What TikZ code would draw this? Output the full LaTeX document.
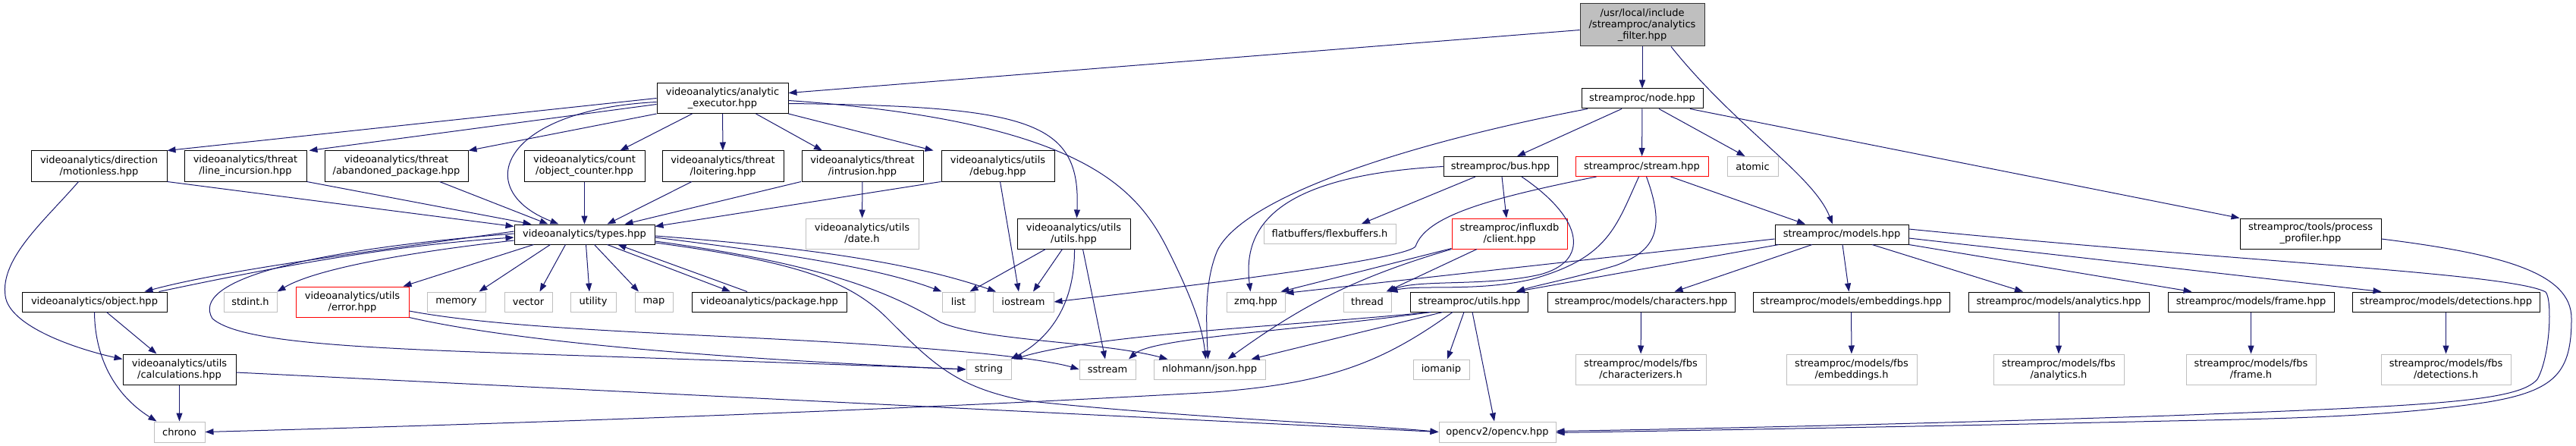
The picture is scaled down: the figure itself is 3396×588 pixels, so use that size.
\documentclass[tikz,border=0pt]{standalone}
\usepackage{fontspec}
\setmainfont{DejaVu Sans}
\usetikzlibrary{arrows.meta, backgrounds}

\definecolor{edgeBlue}{RGB}{25,25,112}
\definecolor{extGray}{RGB}{191,191,191}
\definecolor{rootGray}{RGB}{191,191,191}
\definecolor{cutRed}{RGB}{255,0,0}

\begin{document}
\begin{tikzpicture}[
        x=1pt, y=-1pt,
        % kiểu dáng các khối
        box/.style={
            rectangle,
            inner sep=0pt,
            align=center,
            fill=white,
            line width=1pt,
            font=\fontsize{13pt}{15pt}\selectfont
        },
        docbox/.style={box, draw=black},
        extbox/.style={box, draw=extGray},
        cutbox/.style={box, draw=cutRed},
        rootbox/.style={box, draw=black!80, fill=rootGray},
        oneline/.style={minimum height=26pt},
        twoline/.style={minimum height=40pt},
        dep/.style={
            draw=edgeBlue,
            line width=1pt,
            -{Triangle[length=11pt,width=8pt]}
        }
    ]
    \useasboundingbox (0,0) rectangle (3396,588);

    % --- 1. CÁC NODE ---

    % hàng 0
    \node[rootbox, minimum width=164pt, minimum height=56pt] (filter) at (2165,33) {/usr/local/include\\/streamproc/analytics\\\_filter.hpp};

    % hàng 1
    \node[docbox, twoline, minimum width=173pt] (executor) at (952.5,129.5) {videoanalytics/analytic\\\_executor.hpp};
    \node[docbox, oneline, minimum width=160pt] (nodeHpp) at (2165,130) {streamproc/node.hpp};

    % hàng 2
    \node[docbox, twoline, minimum width=179pt] (motionless) at (130.5,219) {videoanalytics/direction\\/motionless.hpp};
    \node[docbox, twoline, minimum width=161pt] (lineIncursion) at (323.5,219) {videoanalytics/threat\\/line\_incursion.hpp};
    \node[docbox, twoline, minimum width=189pt] (abandoned) at (522.5,219) {videoanalytics/threat\\/abandoned\_package.hpp};
    \node[docbox, twoline, minimum width=159pt] (objCounter) at (770.5,219) {videoanalytics/count\\/object\_counter.hpp};
    \node[docbox, twoline, minimum width=160pt] (loitering) at (953,219) {videoanalytics/threat\\/loitering.hpp};
    \node[docbox, twoline, minimum width=160pt] (intrusion) at (1137,219) {videoanalytics/threat\\/intrusion.hpp};
    \node[docbox, twoline, minimum width=149pt] (debugHpp) at (1315.5,219) {videoanalytics/utils\\/debug.hpp};
    \node[docbox, oneline, minimum width=150pt] (bus) at (1978,219.5) {streamproc/bus.hpp};
    \node[cutbox, oneline, minimum width=175pt] (stream) at (2164.5,219.5) {streamproc/stream.hpp};
    \node[extbox, oneline, minimum width=67pt] (atomic) at (2310.5,219.5) {atomic};

    % hàng 3
    \node[docbox, oneline, minimum width=185pt] (types) at (770.5,309) {videoanalytics/types.hpp};
    \node[extbox, twoline, minimum width=149pt] (dateH) at (1136.5,308) {videoanalytics/utils\\/date.h};
    \node[docbox, twoline, minimum width=149pt] (vaUtils) at (1415.5,308) {videoanalytics/utils\\/utils.hpp};
    \node[extbox, oneline, minimum width=174pt] (flexbuf) at (1753,308.5) {flatbuffers/flexbuffers.h};
    \node[cutbox, twoline, minimum width=152pt] (influx) at (1990,308) {streamproc/influxdb\\/client.hpp};
    \node[docbox, oneline, minimum width=176pt] (models) at (2428,309) {streamproc/models.hpp};
    \node[docbox, twoline, minimum width=186pt] (profiler) at (3046,308) {streamproc/tools/process\\\_profiler.hpp};

    % hàng 4
    \node[docbox, oneline, minimum width=191pt] (objectHpp) at (124.5,398) {videoanalytics/object.hpp};
    \node[extbox, oneline, minimum width=70pt] (stdintH) at (330,398) {stdint.h};
    \node[cutbox, twoline, minimum width=149pt] (errorHpp) at (464.5,398) {videoanalytics/utils\\/error.hpp};
    \node[extbox, oneline, minimum width=77pt] (memory) at (601.5,398) {memory};
    \node[extbox, oneline, minimum width=63pt] (vector) at (696.5,398) {vector};
    \node[extbox, oneline, minimum width=60pt] (utility) at (782,398) {utility};
    \node[extbox, oneline, minimum width=50pt] (mapH) at (862,398) {map};
    \node[docbox, oneline, minimum width=204pt] (package) at (1014,398) {videoanalytics/package.hpp};
    \node[extbox, oneline, minimum width=43pt] (list) at (1263.5,398) {list};
    \node[extbox, oneline, minimum width=80pt] (iostream) at (1349,398) {iostream};
    \node[extbox, oneline, minimum width=77pt] (zmq) at (1655.5,398) {zmq.hpp};
    \node[extbox, oneline, minimum width=63pt] (thread) at (1802.5,398) {thread};
    \node[docbox, oneline, minimum width=155pt] (spUtils) at (1937,398) {streamproc/utils.hpp};
    \node[docbox, oneline, minimum width=247pt] (characters) at (2163.5,398) {streamproc/models/characters.hpp};
    \node[docbox, oneline, minimum width=259pt] (embeddings) at (2440.5,398) {streamproc/models/embeddings.hpp};
    \node[docbox, oneline, minimum width=238pt] (analytics) at (2714,398) {streamproc/models/analytics.hpp};
    \node[docbox, oneline, minimum width=219pt] (frame) at (2967.5,398) {streamproc/models/frame.hpp};
    \node[docbox, oneline, minimum width=247pt] (detections) at (3224.5,398) {streamproc/models/detections.hpp};

    % hàng 5
    \node[docbox, twoline, minimum width=149pt] (calculations) at (236.5,487) {videoanalytics/utils\\/calculations.hpp};
    \node[extbox, oneline, minimum width=59pt] (string) at (1303.5,487) {string};
    \node[extbox, oneline, minimum width=74pt] (sstream) at (1460,487) {sstream};
    \node[extbox, oneline, minimum width=147pt] (json) at (1594.5,487) {nlohmann/json.hpp};
    \node[extbox, oneline, minimum width=74pt] (iomanip) at (1900,487) {iomanip};
    \node[extbox, twoline, minimum width=172pt] (characterizers) at (2163,487) {streamproc/models/fbs\\/characterizers.h};
    \node[extbox, twoline, minimum width=172pt] (fbsEmbed) at (2441,487) {streamproc/models/fbs\\/embeddings.h};
    \node[extbox, twoline, minimum width=172pt] (fbsAnalytics) at (2714,487) {streamproc/models/fbs\\/analytics.h};
    \node[extbox, twoline, minimum width=171pt] (fbsFrame) at (2967.5,487) {streamproc/models/fbs\\/frame.h};
    \node[extbox, twoline, minimum width=171pt] (fbsDetect) at (3224.5,487) {streamproc/models/fbs\\/detections.h};

    % hàng 6
    \node[extbox, minimum width=67pt, minimum height=27pt] (chrono) at (236.5,569.5) {chrono};
    \node[extbox, minimum width=154pt, minimum height=27pt] (opencv) at (1974,569.5) {opencv2/opencv.hpp};

    % --- 2. CÁC ĐƯỜNG NỐI ---

    % analytics_filter.hpp
    \draw[dep] (filter) -- (executor);
    \draw[dep] (filter) -- (nodeHpp);
    \draw[dep] ([xshift=38pt]filter.south) .. controls (2290,170) and (2390,230) .. ([xshift=-12pt]models.north);

    % node.hpp
    \draw[dep] (nodeHpp) -- (stream);
    \draw[dep] ([xshift=22pt]nodeHpp.south) -- ([xshift=-10pt]atomic.north);
    \draw[dep] ([xshift=-27pt]nodeHpp.south) -- ([xshift=22pt]bus.north);
    \draw[dep] ([xshift=63pt]nodeHpp.south) -- (profiler.north west);
    \draw[dep] ([xshift=-72pt]nodeHpp.south) .. controls (1850,190) and (1640,260) .. (1605,330) .. controls (1588,370) and (1590,420) .. ([xshift=-2pt]json.north);

    % bus.hpp
    \draw[dep] (bus.west) .. controls (1680,232) and (1638,300) .. ([xshift=-7pt]zmq.north);
    \draw[dep] ([xshift=-33pt]bus.south) -- ([xshift=42pt]flexbuf.north);
    \draw[dep] ([xshift=2pt]bus.south) -- ([xshift=-4pt]influx.north);
    \draw[dep] ([xshift=28pt]bus.south) .. controls (2090,290) and (2095,345) .. (2030,362) .. controls (1960,378) and (1870,368) .. ([xshift=27pt]thread.north);

    % stream.hpp
    \draw[dep] ([xshift=38pt]stream.south) -- ([xshift=-48pt]models.north);
    \draw[dep] ([xshift=-4pt]stream.south) .. controls (2130,300) and (2120,340) .. (2020,368) .. controls (1950,385) and (1870,375) .. ([xshift=29pt]thread.north);
    \draw[dep] ([xshift=6pt]stream.south) .. controls (2195,300) and (2185,330) .. (2130,350) .. controls (2070,368) and (2030,375) .. ([xshift=62pt]spUtils.north);
    \draw[dep] ([xshift=-60pt]stream.south) .. controls (1960,262) and (1880,285) .. (1866,325) .. controls (1855,338) and (1700,362) .. (iostream.east);

    % influxdb/client.hpp
    \draw[dep] ([xshift=-43pt]influx.south) -- ([xshift=25pt]thread.north);
    \draw[dep] ([yshift=1pt]influx.south west) -- ([xshift=33pt]zmq.north);
    \draw[dep] (influx.south west) .. controls (1790,365) and (1720,400) .. ([xshift=24pt]json.north);

    % models.hpp
    \draw[dep] ([yshift=-6pt]models.west) -- ([yshift=-2pt]zmq.north east);
    \draw[dep] ([xshift=-83pt]models.south) -- ([xshift=62pt]spUtils.north);
    \draw[dep] ([xshift=-39pt]models.south) -- ([xshift=44pt]characters.north);
    \draw[dep] ([xshift=1pt]models.south) -- ([xshift=-3pt]embeddings.north);
    \draw[dep] ([xshift=40pt]models.south) -- ([xshift=-47pt]analytics.north);
    \draw[dep] (models.south east) -- ([xshift=-78pt]frame.north);
    \draw[dep] ([yshift=-5pt]models.east) -- ([xshift=-85pt]detections.north);
    \draw[dep] ([yshift=7pt]models.east) .. controls (2950,345) and (3310,360) .. (3356,385) .. controls (3365,395) and (3362,470) .. (3345,500) .. controls (3320,530) and (3200,535) .. (2860,548) .. controls (2500,560) and (2200,566) .. ([yshift=1pt]opencv.east);
    \draw[dep] ([yshift=-7pt]profiler.east) .. controls (3300,335) and (3390,360) .. (3390,420) .. controls (3390,490) and (3370,515) .. (3280,530) .. controls (3150,550) and (3000,552) .. (2860,555) .. controls (2500,563) and (2200,568) .. ([yshift=-1pt]opencv.east);

    % streamproc/models/*
    \draw[dep] (characters) -- (characterizers);
    \draw[dep] (embeddings) -- (fbsEmbed);
    \draw[dep] (analytics) -- (fbsAnalytics);
    \draw[dep] (frame) -- (fbsFrame);
    \draw[dep] (detections) -- (fbsDetect);

    % streamproc/utils.hpp
    \draw[dep] ([xshift=-51pt]spUtils.south) .. controls (1700,430) and (1450,440) .. ([xshift=3pt]string.north east);
    \draw[dep] ([xshift=-51pt]spUtils.south) .. controls (1720,435) and (1520,445) .. ([xshift=28pt]sstream.north);
    \draw[dep] ([xshift=-35pt]spUtils.south) -- ([xshift=55pt]json.north);
    \draw[dep] ([xshift=-7pt]spUtils.south) -- ([xshift=8pt]iomanip.north);
    \draw[dep] ([xshift=4pt]spUtils.south) -- ([xshift=-4pt]opencv.north);
    \draw[dep] ([xshift=-22pt]spUtils.south) .. controls (1820,480) and (1750,505) .. (1600,517) .. controls (1200,540) and (700,558) .. (chrono.east);

    % videoanalytics/utils/utils.hpp
    \draw[dep] ([xshift=-37pt]vaUtils.south) -- ([xshift=15pt]list.north);
    \draw[dep] ([xshift=-15pt]vaUtils.south) -- ([xshift=13pt]iostream.north);
    \draw[dep] ([xshift=1pt]vaUtils.south) .. controls (1417,400) and (1385,445) .. ([xshift=-1pt]string.north east);
    \draw[dep] ([xshift=12pt]vaUtils.south) -- ([xshift=-3pt]sstream.north);

    % hàng 2 -> types.hpp
    \draw[dep] (debugHpp.south west) -- ([yshift=-3pt]types.north east);
    \draw[dep] ([xshift=3pt]debugHpp.south) -- ([xshift=-6pt]iostream.north);
    \draw[dep] (intrusion) -- (dateH);
    \draw[dep] ([xshift=-81pt]intrusion.south) -- ([xshift=53pt]types.north);
    \draw[dep] ([xshift=-41pt]loitering.south) -- ([xshift=30pt]types.north);
    \draw[dep] (objCounter) -- (types);
    \draw[dep] ([xshift=57pt]abandoned.south) -- ([xshift=-48pt]types.north);
    \draw[dep] (lineIncursion.south east) -- ([xshift=-70pt]types.north);
    \draw[dep] (motionless.south east) -- ([yshift=-3pt]types.north west);
    \draw[dep] ([xshift=-27pt]motionless.south) .. controls (60,290) and (0,340) .. (7,390) .. controls (12,430) and (100,460) .. ([yshift=-7pt]calculations.north west);

    % analytic_executor.hpp
    \draw[dep] (executor.west) -- (motionless.north east);
    \draw[dep] ([yshift=-8pt]executor.west) -- ([xshift=3pt]lineIncursion.north east);
    \draw[dep] (executor.south west) -- (abandoned.north east);
    \draw[dep] ([xshift=-40pt]executor.south) -- ([xshift=47pt]objCounter.north);
    \draw[dep] (executor) -- (loitering);
    \draw[dep] ([xshift=44pt]executor.south) -- ([xshift=-53pt]intrusion.north);
    \draw[dep] (executor.south east) -- ([xshift=-85pt]debugHpp.north);
    \draw[dep] ([yshift=-5pt]executor.west) .. controls (660,145) and (620,250) .. ([xshift=-34pt]types.north);
    \draw[dep] ([yshift=-7pt]executor.east) .. controls (1360,140) and (1425,160) .. ([xshift=4pt]vaUtils.north);
    \draw[dep] ([yshift=-3pt]executor.east) .. controls (1430,160) and (1500,250) .. (1540,330) .. controls (1570,390) and (1585,430) .. ([xshift=-5pt]json.north);

    % types.hpp
    \draw[dep] ([yshift=4pt]types.west) .. controls (500,330) and (300,355) .. ([xshift=66pt]objectHpp.north);
    \draw[dep] ([xshift=85pt]objectHpp.north) .. controls (350,355) and (500,325) .. ([yshift=-4pt]types.west);
    \draw[dep] ([yshift=-8pt]types.west) .. controls (560,330) and (420,352) .. (stdintH.north east);
    \draw[dep] ([yshift=1pt]types.west) .. controls (400,330) and (250,370) .. (280,420) .. controls (320,455) and (500,460) .. (800,470) .. controls (1000,477) and (1150,482) .. (string.west);
    \draw[dep] ([xshift=-67pt]types.south) -- ([xshift=67pt]errorHpp.north);
    \draw[dep] ([xshift=-45pt]types.south) -- ([xshift=30pt]memory.north);
    \draw[dep] ([xshift=-25pt]types.south) -- ([xshift=15pt]vector.north);
    \draw[dep] ([xshift=2pt]types.south) -- ([xshift=-5pt]utility.north);
    \draw[dep] ([xshift=13pt]types.south) -- ([xshift=-20pt]mapH.north);
    \draw[dep] ([xshift=30pt]types.south) -- ([xshift=-51pt]package.north);
    \draw[dep] ([xshift=-29pt]package.north) -- ([xshift=44pt]types.south);
    \draw[dep] ([yshift=-4pt]types.east) .. controls (1000,330) and (1150,350) .. (list.north west);
    \draw[dep] ([yshift=-2pt]types.east) .. controls (1050,325) and (1200,345) .. ([xshift=-36pt]iostream.north);
    \draw[dep] ([yshift=-9pt]types.east) .. controls (1100,350) and (1180,390) .. (1240,425) .. controls (1300,450) and (1450,450) .. ([xshift=-55pt]json.north);
    \draw[dep] ([yshift=-11pt]types.east) .. controls (1050,345) and (1120,370) .. (1170,420) .. controls (1230,480) and (1260,510) .. (1350,528) .. controls (1550,550) and (1800,560) .. (opencv.west);

    % error.hpp, object.hpp, calculations.hpp
    \draw[dep] ([yshift=-12pt]errorHpp.east) .. controls (700,440) and (1000,440) .. (1250,462) .. controls (1350,470) and (1400,480) .. (sstream.west);
    \draw[dep] (errorHpp.south east) .. controls (700,455) and (1000,475) .. (string.west);
    \draw[dep] ([xshift=16pt]objectHpp.south) -- ([xshift=-30pt]calculations.north);
    \draw[dep] (objectHpp.south) .. controls (125,470) and (150,520) .. ([xshift=-30pt]chrono.north);
    \draw[dep] (calculations) -- (chrono);
    \draw[dep] ([yshift=-4pt]calculations.east) -- (opencv.west);

\end{tikzpicture}
\end{document}
